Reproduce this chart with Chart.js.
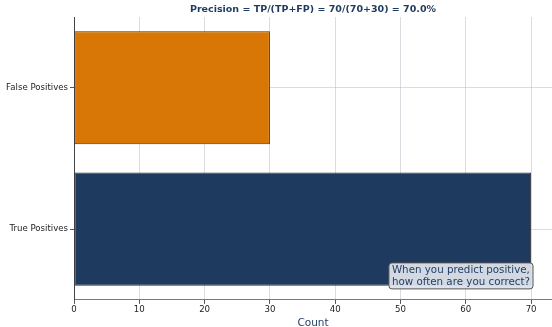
<!DOCTYPE html>
<html><head><meta charset="utf-8">
<script src="https://cdn.jsdelivr.net/npm/chart.js@4/dist/chart.umd.min.js"></script>
<style>html,body{margin:0;padding:0;background:#fff}#wrap{width:552px;height:327px}</style>
</head><body><div id="wrap"><canvas id="c" width="552" height="327"></canvas></div>
<script>
const categories = ['False Positives', 'True Positives'];
const counts = [30, 70];
const barColors = ['#d97706', '#1f3a5f'];
const xTicks = [0, 10, 20, 30, 40, 50, 60, 70];
const titleText = 'Precision = TP/(TP+FP) = 70/(70+30) = 70.0%';
const noteLines = ['When you predict positive,', 'how often are you correct?'];

const FONT = '"DejaVu Sans", sans-serif';
const navy = '#1f3a5f';

const notePlugin = {
  id: 'note',
  afterDraw(chart) {
    const ctx = chart.ctx, a = chart.chartArea;
    ctx.save();
    // title centred over the plot area
    ctx.font = 'bold 9.5px ' + FONT;
    ctx.fillStyle = navy;
    ctx.textAlign = 'center';
    ctx.textBaseline = 'middle';
    ctx.fillText(titleText, (a.left + a.right) / 2, 10);
    // annotation box
    ctx.textAlign = 'left';
    ctx.font = '10.3px ' + FONT;
    const w = Math.max(...noteLines.map(l => ctx.measureText(l).width)) + 6;
    const h = 26;
    const x = a.right - 19 - w, y = a.bottom - 11 - h;
    ctx.beginPath();
    ctx.roundRect(x, y, w, h, 3);
    ctx.fillStyle = 'rgba(220,226,234,0.95)';
    ctx.fill();
    ctx.strokeStyle = '#555';
    ctx.lineWidth = 1;
    ctx.stroke();
    ctx.fillStyle = navy;
    ctx.fillText(noteLines[0], x + 3, y + 7);
    ctx.fillText(noteLines[1], x + 3, y + 19);
    ctx.restore();
  }
};

new Chart(document.getElementById('c'), {
  type: 'bar',
  data: {
    labels: categories,
    datasets: [{
      data: counts,
      backgroundColor: barColors,
      borderColor: '#333333',
      borderWidth: 1,
      borderSkipped: false,
      barPercentage: 0.8,
      categoryPercentage: 1.0
    }]
  },
  options: {
    indexAxis: 'y',
    responsive: false,
    animation: false,
    layout: { padding: { left: 0, right: 0, top: 17, bottom: -2 } },
    plugins: {
      legend: { display: false },
      tooltip: { enabled: false },
      title: { display: false }
    },
    scales: {
      x: {
        min: 0, max: 73.2, z: 1,
        afterBuildTicks(s) { s.ticks = xTicks.map(v => ({ value: v })); },
        ticks: { color: '#222', font: { family: FONT, size: 8.6, lineHeight: 1 }, padding: 2 },
        grid: { color: 'rgba(170,180,190,0.45)', tickColor: '#555', tickLength: 4 },
        border: { color: '#6b7b8c', width: 1 },
        title: { display: true, text: 'Count', color: navy, font: { family: FONT, size: 10.5, lineHeight: 1 }, padding: { top: 2, bottom: 0 } }
      },
      y: {
        z: 1,
        offset: true,
        afterFit(s) { s.width = 74; },
        ticks: { color: '#222', font: { family: FONT, size: 8.6 }, padding: 2 },
        grid: { color: 'rgba(170,180,190,0.45)', tickColor: '#555', tickLength: 4, offset: false },
        border: { color: '#444', width: 1 }
      }
    }
  },
  plugins: [notePlugin]
});
</script></body></html>
